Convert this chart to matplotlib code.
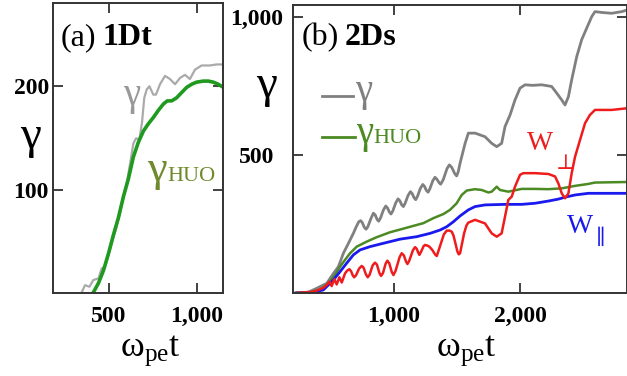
import matplotlib
matplotlib.use("Agg")
import matplotlib.pyplot as plt

plt.rcParams['font.family'] = ['Liberation Serif', 'DejaVu Serif']
plt.rcParams['mathtext.fontset'] = 'custom'
plt.rcParams['mathtext.rm'] = 'Liberation Serif'
plt.rcParams['mathtext.it'] = 'Liberation Serif:italic'
plt.rcParams['mathtext.bf'] = 'Liberation Serif:bold'

# (a) 1Dt : Lorentz factor and HUO estimate
t_a_gamma = [348, 367, 392, 414, 443, 461, 480, 508, 537, 565, 584, 606, 625, 640,
             655, 674, 689, 702, 716, 731, 753, 768, 791, 819, 847, 876, 904, 932,
             960, 989, 1026, 1073, 1111, 1158]
gamma_a = [2, 9, 7.5, 14, 15.5, 25, 27, 43, 60, 78, 94, 110, 129, 145,
           150, 149, 165, 189, 197, 200, 192, 192, 202, 210, 207, 202, 208, 211,
           207, 216, 220, 220, 221, 221]
t_a_huo = [414, 443, 471, 499, 527, 556, 584, 612, 640, 668, 697, 725, 753, 782,
           810, 832, 857, 885, 913, 942, 970, 998, 1036, 1064, 1092, 1120, 1149]
gamma_huo_a = [2, 11, 23, 39, 57, 74, 94, 111, 132, 146, 157, 164, 170, 177,
               183, 186, 186, 189, 194, 199, 202, 204, 205, 205, 204, 202, 199]

# (b) 2Ds
t_b_gamma = [200, 320, 386, 466, 519, 558, 598, 638, 677, 700, 720, 735, 748, 764,
             778, 792, 815, 836, 850, 866, 878, 893, 915, 934, 948, 963, 976, 991,
             1013, 1032, 1046, 1061, 1074, 1088, 1111, 1130, 1144, 1159, 1172, 1186,
             1209, 1228, 1242, 1257, 1270, 1284, 1307, 1325, 1340, 1357, 1370, 1390,
             1420, 1439, 1458, 1482, 1497, 1510, 1524, 1564, 1590, 1643, 1722, 1775,
             1815, 1854, 1881, 1921, 1960, 2000, 2040, 2100, 2172, 2251, 2291, 2331,
             2357, 2384, 2410, 2450, 2489, 2529, 2569, 2595, 2648, 2727, 2807, 2850]
gamma_b = [0, 3, 17, 35, 71, 95, 144, 180, 216, 240, 258, 262, 255, 238,
           231, 240, 268, 289, 283, 266, 260, 272, 300, 315, 308, 293, 286, 298,
           326, 341, 334, 319, 313, 325, 353, 367, 360, 345, 338, 350,
           379, 393, 386, 371, 365, 377, 406, 419, 412, 400, 394, 410,
           450, 464, 455, 432, 424, 440, 470, 542, 579, 579, 566, 542,
           530, 542, 603, 645, 699, 742, 754, 752, 754, 748, 724, 699,
           681, 711, 772, 856, 917, 959, 1001, 1019, 1016, 1013, 1019, 1025]
t_b_huo = [228, 333, 413, 479, 532, 571, 611, 651, 704, 783, 862, 968, 1074, 1153,
           1233, 1312, 1392, 1444, 1497, 1537, 1577, 1643, 1696, 1749, 1775, 1815,
           1841, 1907, 2013, 2119, 2225, 2331, 2437, 2542, 2595, 2850]
gamma_huo_b = [0, 3, 11, 35, 65, 95, 120, 144, 168, 186, 202, 220, 233, 243,
               253, 271, 286, 301, 325, 355, 371, 376, 373, 364, 367, 385,
               373, 367, 377, 377, 376, 379, 388, 395, 400, 402]
t_b_wpar = [228, 333, 439, 518, 571, 624, 677, 730, 810, 915, 1048, 1180, 1286, 1365,
            1418, 1471, 1524, 1590, 1643, 1722, 1881, 2013, 2119, 2225, 2304, 2357,
            2437, 2542, 2850]
w_par = [0, 0, 11, 47, 77, 108, 138, 156, 168, 180, 195, 204, 216, 228,
         240, 258, 279, 301, 313, 319, 321, 321, 325, 333, 340, 347,
         355, 361, 361]
t_b_wperp = [228, 360, 399, 439, 466, 487, 505, 526, 545, 566, 585, 611, 630, 646,
             660, 672, 683, 698, 722, 743, 758, 776, 791, 806, 830, 849, 864, 884,
             897, 912, 933, 947, 962, 982, 995, 1012, 1044, 1061, 1078, 1095, 1106,
             1120, 1150, 1167, 1180, 1192, 1201, 1215, 1235, 1246, 1262, 1280, 1305,
             1325, 1339, 1358, 1395, 1418, 1440, 1458, 1472, 1484, 1503, 1514, 1524,
             1540, 1556, 1575, 1590, 1643, 1722, 1775, 1815, 1854, 1881, 1907, 1934,
             1960, 2000, 2026, 2119, 2225, 2278, 2304, 2331, 2357, 2384, 2410, 2437,
             2476, 2516, 2555, 2595, 2648, 2727, 2850]
w_perp = [0, 5, 11, 19, 29, 41, 25, 50, 31, 57, 38, 71, 82, 86,
          78, 64, 57, 64, 88, 98, 92, 68, 57, 66, 100, 110, 103, 72,
          62, 72, 106, 117, 108, 76, 65, 80, 130, 144, 136, 114, 105,
          116, 155, 166, 160, 146, 138, 150, 170, 174, 172, 168, 155,
          140, 134, 160, 212, 226, 226, 222, 208, 186, 150, 140, 144,
          180, 216, 245, 255, 265, 252, 216, 204, 216, 277, 337, 349,
          385, 428, 434, 434, 431, 422, 397, 361, 343, 361, 434, 494,
          554, 615, 645, 663, 663, 663, 669]

fig = plt.figure(figsize=(6.27, 3.76), dpi=100)
ax_a = fig.add_axes([53 / 627, 83 / 376, 170 / 627, 290 / 376])
ax_b = fig.add_axes([293 / 627, 83 / 376, 334 / 627, 288 / 376])

for ax in (ax_a, ax_b):
    for sp in ax.spines.values():
        sp.set_linewidth(1.4)
        sp.set_color('#333333')
    ax.tick_params(direction='in', length=7, width=1.3, color='#333333',
                   top=True, right=True, labelsize=17, pad=9)

# panel (a)
ax_a.plot(t_a_gamma, gamma_a, color='#aaaaaa', lw=1.6)
ax_a.plot(t_a_huo, gamma_huo_a, color='#1f9a1f', lw=2.6)
ax_a.set_xlim(186, 1147)
ax_a.set_ylim(1.5, 280)
ax_a.set_xticks([500, 1000])
ax_a.set_xticklabels(['500', '1,000'], fontweight='bold')
ax_a.set_yticks([100, 200])
ax_a.set_yticklabels(['100', '200'], fontweight='bold')
ax_a.tick_params(axis='y', pad=3)
ax_a.set_xlabel(r'ω$_{\rm pe}$t', fontsize=26)
ax_a.xaxis.set_label_coords(0.57, -0.14)
ax_a.set_ylabel('γ', fontsize=34, rotation=0, va='center', ha='center')
ax_a.yaxis.set_label_coords(-0.13, 0.54)

ax_a.text(0.045, 0.855, '(a)', transform=ax_a.transAxes, fontsize=23)
ax_a.text(0.29, 0.855, '1Dt', transform=ax_a.transAxes, fontsize=23,
          fontweight='bold')
ax_a.text(0.41, 0.65, 'γ', transform=ax_a.transAxes, fontsize=28,
          color='#999999')
g_a = ax_a.text(0.555, 0.385, 'γ', transform=ax_a.transAxes, fontsize=32,
                color='#6f8a2a')
ax_a.annotate('HUO', xy=(1.0, 0.12), xycoords=g_a, fontsize=16,
              color='#6f8a2a', va='bottom', ha='left')

# panel (b)
ax_b.plot(t_b_gamma, gamma_b, color='#808080', lw=2.0)
ax_b.plot(t_b_huo, gamma_huo_b, color='#4c8a24', lw=1.8)
ax_b.plot(t_b_wpar, w_par, color='#1a1aee', lw=2.0)
ax_b.plot(t_b_wperp, w_perp, color='#ee1c1c', lw=1.8)
ax_b.set_xlim(198, 2849)
ax_b.set_ylim(0, 1043)
ax_b.set_xticks([1000, 2000])
ax_b.set_xticklabels(['1,000', '2,000'], fontweight='bold')
ax_b.set_yticks([500, 1000])
ax_b.set_yticklabels(['500', '1,000'], fontweight='bold', ha='center')
ax_b.tick_params(axis='y', pad=26)
ax_b.set_xlabel(r'ω$_{\rm pe}$t', fontsize=26)
ax_b.xaxis.set_label_coords(0.52, -0.14)
ax_b.set_ylabel('γ', fontsize=34, rotation=0, va='center', ha='center')
ax_b.yaxis.set_label_coords(-0.078, 0.72)

ax_b.text(0.027, 0.861, '(b)', transform=ax_b.transAxes, fontsize=23)
ax_b.text(0.155, 0.861, '2Ds', transform=ax_b.transAxes, fontsize=23,
          fontweight='bold')

# hand-made legend for the two gamma curves
ax_b.plot([0.087, 0.18], [0.684, 0.684], transform=ax_b.transAxes,
          color='#808080', lw=2.0)
ax_b.text(0.186, 0.665, 'γ', transform=ax_b.transAxes, fontsize=28,
          color='#808080')
ax_b.plot([0.087, 0.185], [0.542, 0.542], transform=ax_b.transAxes,
          color='#4c8a24', lw=2.0)
g_b = ax_b.text(0.188, 0.52, 'γ', transform=ax_b.transAxes, fontsize=28,
                color='#4c8a24')
ax_b.annotate('HUO', xy=(1.0, 0.12), xycoords=g_b, fontsize=16,
              color='#4c8a24', va='bottom', ha='left')

# work components
w1 = ax_b.text(0.70, 0.497, 'W', transform=ax_b.transAxes, fontsize=20,
               color='#ee1c1c')
ax_b.annotate('⊥', xy=(1.1, 0.02), xycoords=w1, fontsize=15,
              color='#ee1c1c', va='top', ha='left')
w2 = ax_b.text(0.82, 0.208, 'W', transform=ax_b.transAxes, fontsize=20,
               color='#1a1aee')
ax_b.annotate('∥', xy=(1.1, 0.4), xycoords=w2, fontsize=15,
              color='#1a1aee', va='top', ha='left')

fig.savefig('out.png', dpi=100)
